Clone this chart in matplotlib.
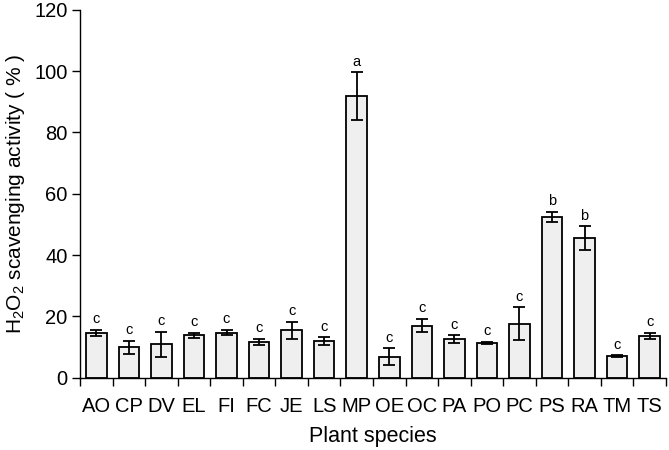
import matplotlib
matplotlib.use("Agg")
import matplotlib.pyplot as plt
import numpy as np

plt.rcParams['font.family'] = ['Liberation Sans', 'DejaVu Sans']
plt.rcParams['mathtext.fontset'] = 'custom'
plt.rcParams['mathtext.rm'] = 'Liberation Sans'
plt.rcParams['mathtext.it'] = 'Liberation Sans:italic'

species = ["AO", "CP", "DV", "EL", "FI", "FC", "JE", "LS", "MP", "OE",
           "OC", "PA", "PO", "PC", "PS", "RA", "TM", "TS"]
activity = [14.7, 9.9, 10.9, 13.9, 14.7, 11.7, 15.5, 12.0, 91.9, 6.9,
            17.0, 12.5, 11.3, 17.6, 52.5, 45.5, 7.1, 13.7]
errors = [1.0, 2.1, 4.1, 0.8, 0.9, 0.9, 2.8, 1.2, 7.7, 2.7,
          2.1, 1.3, 0.3, 5.4, 1.7, 3.9, 0.2, 1.0]
groups = ["c", "c", "c", "c", "c", "c", "c", "c", "a", "c",
          "c", "c", "c", "c", "b", "b", "c", "c"]
yticks = [0, 20, 40, 60, 80, 100, 120]

fig = plt.figure(figsize=(6.69, 4.5), dpi=100)
ax = fig.add_axes([0.1196, 0.1607, 0.8759, 0.8173])

x = np.arange(len(species)) + 0.5
ax.bar(x, activity, width=0.63, color="#efefef", edgecolor="black",
       linewidth=1.3, zorder=2)
ax.errorbar(x, activity, yerr=errors, fmt="none", ecolor="black",
            elinewidth=1.3, capsize=4, capthick=1.3, zorder=3)
for xi, v, e, g in zip(x, activity, errors, groups):
    ax.text(xi, v + e + 1.2, g, ha="center", va="bottom", fontsize=10.5)

ax.set_xlim(0, len(species))
ax.set_ylim(0, 120)
ax.set_yticks(yticks)
ax.set_xticks(np.arange(len(species) + 1))
ax.set_xticklabels([])
ax.set_xticks(x, minor=True)
ax.set_xticklabels(species, minor=True)
ax.tick_params(axis="x", which="major", direction="out", length=6, width=1)
ax.tick_params(axis="x", which="minor", length=0, pad=14, labelsize=14.5)
ax.tick_params(axis="y", direction="out", length=6, width=1, labelsize=14.5, pad=3)

for s in ["top", "right"]:
    ax.spines[s].set_visible(False)
for s in ["left", "bottom"]:
    ax.spines[s].set_linewidth(1)

ax.set_xlabel("Plant species", fontsize=15.5, labelpad=7)
ax.set_ylabel(r"H$_2$O$_2$ scavenging activity ( % )", fontsize=15, labelpad=5)

fig.savefig("out.png", dpi=100)
